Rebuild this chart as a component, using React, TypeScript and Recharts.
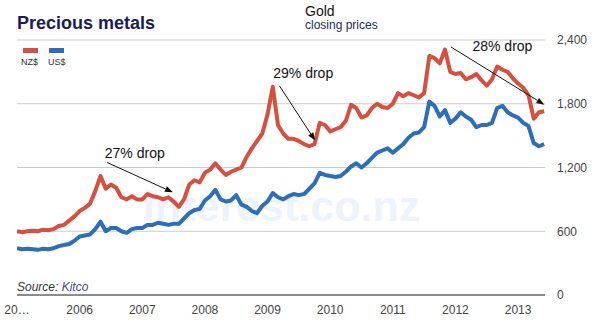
import React from "react";
import { LineChart, Line, XAxis, YAxis, CartesianGrid, ReferenceLine, ReferenceDot } from "recharts";

// Monthly closing prices, Jan 2005 – Jun 2013
const nzdPrices = [
  600, 590, 600, 605, 600, 615, 610, 620, 650, 660, 700, 740,
  790, 820, 860, 980, 1120, 1000, 1040, 1010, 920, 900, 930, 900,
  900, 950, 930, 920, 900, 920, 880, 830, 900, 1040, 1080, 1060,
  1150, 1180, 1240, 1180, 1130, 1160, 1180, 1200, 1300, 1380, 1450, 1520,
  1700, 1960, 1600, 1520, 1470, 1470, 1450, 1420, 1400, 1420, 1620, 1600,
  1540, 1560, 1580, 1640, 1790, 1760, 1670, 1690, 1760, 1800, 1770, 1760,
  1800, 1900, 1870, 1900, 1880, 1860, 1900, 2250, 2230, 2180, 2310, 2100,
  2080, 2090, 2030, 2050, 2080, 2020, 1970, 2030, 2150, 2120, 2100, 2040,
  1990, 1950, 1880, 1660, 1720, 1730,
];
const usdPrices = [
  440, 430, 435, 430, 425, 435, 430, 440, 460, 470, 480, 510,
  550, 560, 570, 620, 690, 600, 630, 630, 600, 585, 620, 630,
  630, 660, 660, 680, 670, 660, 670, 670, 720, 770, 800, 810,
  890, 930, 990, 900, 880, 890, 940, 850, 830, 790, 770, 840,
  880, 960, 920, 900, 930, 950, 940, 950, 1000, 1050, 1150, 1130,
  1120, 1110, 1120, 1160, 1210, 1240, 1200, 1240, 1290, 1340, 1360, 1380,
  1340, 1380, 1420, 1480, 1520, 1530, 1580, 1820, 1780, 1680, 1740, 1620,
  1660, 1720, 1680, 1650, 1580, 1600, 1600, 1620, 1760, 1780, 1720, 1690,
  1670, 1620, 1590, 1430, 1400, 1420,
];
const startYear = 2005;
const xTicks = [2005, 2006, 2007, 2008, 2009, 2010, 2011, 2012, 2013];
const xTickLabels = ["20…", "2006", "2007", "2008", "2009", "2010", "2011", "2012", "2013"];
const yTicks = [0, 600, 1200, 1800, 2400];

// Annotations: [label, labelX, labelY, fromX, fromY, toX, toY]
const annotations: [string, number, number, number, number, number, number][] = [
  ["27% drop", 2006.88, 1340, 2006.44, 1247, 2007.49, 966],
  ["29% drop", 2009.57, 2090, 2009.19, 1969, 2009.76, 1453],
  ["28% drop", 2012.75, 2344, 2011.93, 2334, 2013.42, 1791],
];

const data = nzdPrices.map((v, i) => ({ t: startYear + i / 12, nzd: v, usd: usdPrices[i] }));

const RED = "#d6503f";
const BLUE = "#2e6db8";
const FONT = "'Liberation Sans', Arial, sans-serif";

const ArrowShape = (p: any) => {
  const { x1, y1, x2, y2 } = p;
  if ([x1, y1, x2, y2].some((v) => typeof v !== "number")) return null;
  const ang = Math.atan2(y2 - y1, x2 - x1);
  const L = 8, W = 3;
  const bx = x2 - L * Math.cos(ang), by = y2 - L * Math.sin(ang);
  const px = -Math.sin(ang) * W, py = Math.cos(ang) * W;
  return (
    <g>
      <line x1={x1} y1={y1} x2={bx} y2={by} stroke="#111" strokeWidth={1} />
      <polygon points={`${x2},${y2} ${bx + px},${by + py} ${bx - px},${by - py}`} fill="#111" />
    </g>
  );
};

export default function App() {
  return (
    <div style={{ position: "absolute", left: 0, top: 0, width: 600, height: 323, background: "#fff", fontFamily: FONT, overflow: "hidden" }}>
      <div style={{ position: "absolute", left: 143, top: 176, fontSize: 43, fontWeight: "bold", color: "#eef2fa", whiteSpace: "nowrap", lineHeight: "60px" }}>
        interest.co.nz
      </div>
      <div style={{ position: "absolute", left: 0, top: 0 }}>
        <LineChart width={600} height={323} data={data} margin={{ top: 40, right: 0, left: 17, bottom: 0 }}>
          <CartesianGrid vertical={false} stroke="#cccccc" />
          <XAxis
            dataKey="t"
            type="number"
            domain={[2005, 2013.43]}
            ticks={xTicks}
            tickFormatter={(v: number) => xTickLabels[xTicks.indexOf(v)] ?? String(v)}
            tickLine={false}
            tickSize={0}
            tickMargin={10}
            height={28}
            axisLine={{ stroke: "#333", strokeWidth: 1 }}
            tick={{ fill: "#444", fontSize: 12, fontFamily: FONT }}
            allowDataOverflow
          />
          <YAxis
            orientation="right"
            domain={[0, 2400]}
            ticks={yTicks}
            width={55}
            tickLine={false}
            axisLine={false}
            tickSize={5}
            tickMargin={7}
            tickFormatter={(v: number) => v.toLocaleString("en-US")}
            tick={{ fill: "#444", fontSize: 12, fontFamily: FONT, textAnchor: "start" }}
          />
          <Line dataKey="usd" stroke={BLUE} strokeWidth={4} dot={false} isAnimationActive={false} strokeLinejoin="round" />
          <Line dataKey="nzd" stroke={RED} strokeWidth={4} dot={false} isAnimationActive={false} strokeLinejoin="round" />
          {annotations.map((a) => (
            <ReferenceLine
              key={a[0] + "l"}
              segment={[{ x: a[3], y: a[4] }, { x: a[5], y: a[6] }]}
              shape={ArrowShape}
              ifOverflow="visible"
            />
          ))}
          {annotations.map((a) => (
            <ReferenceDot
              key={a[0] + "t"}
              x={a[1]}
              y={a[2]}
              ifOverflow="visible"
              shape={(p: any) => (
                <text x={p.cx} y={p.cy} textAnchor="middle" dominantBaseline="central" fontSize={14} fontFamily={FONT} fill="#111">
                  {a[0]}
                </text>
              )}
            />
          ))}
        </LineChart>
      </div>
      <div style={{ position: "absolute", left: 17, top: 12, fontSize: 18, fontWeight: "bold", color: "#1c1b57", whiteSpace: "nowrap", lineHeight: "22px" }}>
        Precious metals
      </div>
      <div style={{ position: "absolute", left: 23, top: 48, width: 15, height: 5, background: RED }} />
      <div style={{ position: "absolute", left: 49, top: 48, width: 15, height: 5, background: BLUE }} />
      <div style={{ position: "absolute", left: 21, top: 57, fontSize: 9, color: "#333", lineHeight: "11px" }}>NZ$</div>
      <div style={{ position: "absolute", left: 48, top: 57, fontSize: 9, color: "#333", lineHeight: "11px" }}>US$</div>
      <div style={{ position: "absolute", left: 305, top: 4, fontSize: 14, color: "#111", lineHeight: "15px" }}>Gold</div>
      <div style={{ position: "absolute", left: 305, top: 19, fontSize: 12, color: "#1d2a55", lineHeight: "13px" }}>closing prices</div>
      <div style={{ position: "absolute", left: 17, top: 280, fontSize: 12, fontStyle: "italic", color: "#333", lineHeight: "14px", whiteSpace: "nowrap" }}>
        Source: <span style={{ color: "#4a4a8c" }}>Kitco</span>
      </div>
    </div>
  );
}
